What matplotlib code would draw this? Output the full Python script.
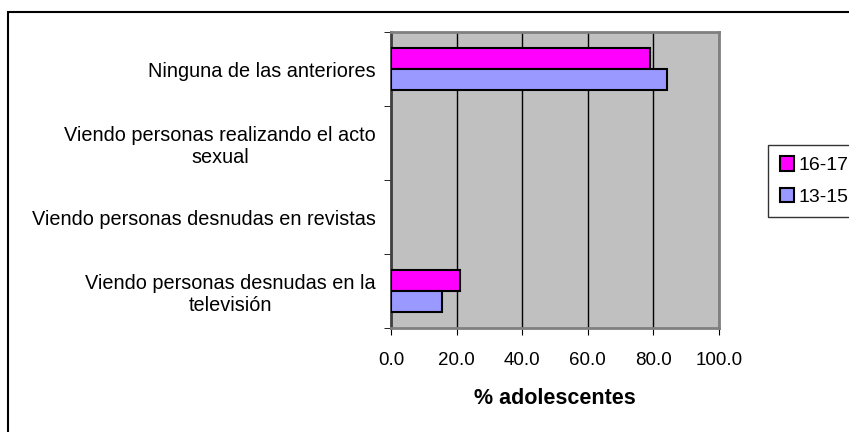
import numpy as np
import matplotlib.pyplot as plt
from matplotlib.patches import Rectangle

plt.rcParams['font.family'] = ['Liberation Sans', 'DejaVu Sans']

categorias = ["Viendo personas desnudas en la\ntelevisión",
              "Viendo personas desnudas en revistas",
              "Viendo personas realizando el acto\nsexual",
              "Ninguna de las anteriores"]
edad_16_17 = [21.0, 0.0, 0.0, 79.0]
edad_13_15 = [15.6, 0.0, 0.0, 84.2]
ticks_x = [0, 20, 40, 60, 80, 100]

fig = plt.figure(figsize=(8.49, 4.32), dpi=100)
ax = fig.add_axes([0.4605, 0.2407, 0.3864, 0.6852])

y = np.arange(len(categorias))
h = 0.28
# las barras en cero no llevan borde
bordes_a = [1.5 if v > 0 else 0 for v in edad_16_17]
bordes_b = [1.5 if v > 0 else 0 for v in edad_13_15]
ax.barh(y + h / 2, edad_16_17, height=h, color='#FF00FF', edgecolor='black', linewidth=bordes_a, label='16-17', zorder=3)
ax.barh(y - h / 2, edad_13_15, height=h, color='#9999FF', edgecolor='black', linewidth=bordes_b, label='13-15', zorder=3)

ax.set_facecolor('#C0C0C0')
ax.set_xlim(0, 100)
ax.set_ylim(-0.5, 3.5)
ax.set_xticks(ticks_x)
ax.set_xticklabels(["%.1f" % t for t in ticks_x], fontsize=13.5)
ax.grid(axis='x', color='black', linewidth=1, zorder=1)

# etiquetas de categoría sin marca, marcas en los límites
ax.set_yticks(y)
ax.set_yticklabels(categorias, fontsize=14.3, multialignment='center')
ax.tick_params(axis='y', length=0, pad=11)
ax.set_yticks(np.arange(-0.5, 4.0, 1.0), minor=True)
ax.tick_params(axis='y', which='minor', length=5, direction='out', color='black')
ax.tick_params(axis='x', length=5, direction='out', pad=12)

for s in ax.spines.values():
    s.set_color('#808080')
    s.set_linewidth(2)
ax.spines['left'].set_color('#404040')

ax.set_xlabel("% adolescentes", fontsize=15.5, fontweight='bold', labelpad=14)

leg = fig.legend(handles=ax.patches[:1] + ax.patches[4:5], labels=['16-17', '13-15'],
                 loc='center left', bbox_to_anchor=(0.9046, 0.581), fontsize=14,
                 frameon=True, fancybox=False, edgecolor='black', handlelength=0.75,
                 handleheight=0.75, handletextpad=0.2, borderpad=0.6, labelspacing=0.7,
                 borderaxespad=0)
leg.get_frame().set_linewidth(1)
for hnd in leg.legend_handles:
    hnd.set_linewidth(1.5)

# marco del gráfico
fig.patches.append(Rectangle((8 / 849, -0.1), 1.2, 1 - 12 / 432 + 0.1, transform=fig.transFigure,
                             fill=False, edgecolor='black', linewidth=1.5))

fig.savefig("out.png", dpi=100)
